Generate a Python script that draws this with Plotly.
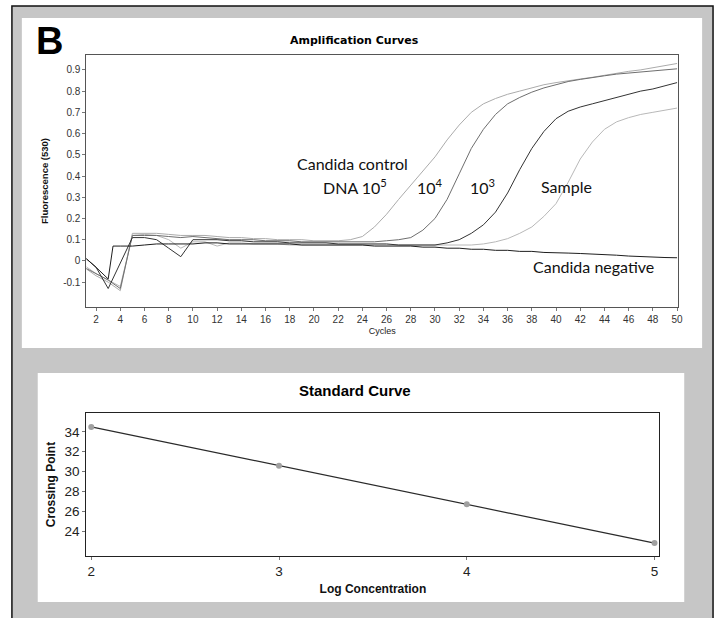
import plotly.graph_objects as go

W, H = 724, 618
def px(x): return x / W
def py(y): return 1 - y / H

# ---------------- data: amplification curves ----------------
cycles = list(range(1, 51))
neg_cycles = [1, 2, 3, 3.4] + list(range(4, 51))

ctrl_1e5 = [
    -0.03, -0.07, -0.10, -0.14, 0.13, 0.13, 0.13, 0.125, 0.12, 0.12,
    0.12, 0.115, 0.11, 0.11, 0.105, 0.105, 0.10, 0.10, 0.10, 0.095,
    0.095, 0.095, 0.10, 0.115, 0.16, 0.22, 0.29, 0.355, 0.42, 0.49,
    0.57, 0.64, 0.70, 0.74, 0.765, 0.785, 0.80, 0.815, 0.83, 0.84,
    0.85, 0.857, 0.865, 0.875, 0.885, 0.893, 0.90, 0.91, 0.92, 0.93]

ctrl_1e4 = [
    -0.03, -0.06, -0.09, -0.13, 0.12, 0.12, 0.12, 0.115, 0.11, 0.115,
    0.11, 0.105, 0.10, 0.10, 0.10, 0.095, 0.095, 0.095, 0.09, 0.09,
    0.09, 0.09, 0.09, 0.09, 0.09, 0.095, 0.10, 0.11, 0.145, 0.20,
    0.29, 0.41, 0.53, 0.62, 0.69, 0.74, 0.77, 0.795, 0.815, 0.83,
    0.845, 0.855, 0.865, 0.872, 0.88, 0.885, 0.89, 0.895, 0.90, 0.905]

ctrl_1e3 = [
    0.02, -0.03, -0.13, -0.01, 0.11, 0.11, 0.10, 0.06, 0.02, 0.10,
    0.10, 0.10, 0.095, 0.095, 0.09, 0.09, 0.09, 0.085, 0.085, 0.085,
    0.085, 0.08, 0.08, 0.08, 0.08, 0.08, 0.075, 0.075, 0.075, 0.075,
    0.085, 0.10, 0.13, 0.17, 0.23, 0.32, 0.43, 0.53, 0.61, 0.67,
    0.705, 0.725, 0.74, 0.755, 0.77, 0.785, 0.80, 0.81, 0.825, 0.84]

sample = [
    -0.02, -0.06, -0.09, -0.12, 0.12, 0.125, 0.12, 0.10, 0.06, 0.09,
    0.09, 0.07, 0.085, 0.085, 0.08, 0.08, 0.08, 0.075, 0.075, 0.075,
    0.075, 0.075, 0.075, 0.075, 0.075, 0.075, 0.075, 0.075, 0.075, 0.075,
    0.075, 0.075, 0.075, 0.08, 0.09, 0.105, 0.13, 0.16, 0.21, 0.27,
    0.37, 0.48, 0.56, 0.62, 0.655, 0.675, 0.69, 0.70, 0.71, 0.72]

negative = [
    0.02, -0.03, -0.085, 0.07, 0.07, 0.07, 0.075, 0.08, 0.08, 0.08,
    0.08, 0.085, 0.085, 0.08, 0.08, 0.08, 0.08, 0.08, 0.08, 0.075, 0.075,
    0.075, 0.075, 0.075, 0.075, 0.07, 0.07, 0.07, 0.07, 0.065, 0.065,
    0.06, 0.06, 0.055, 0.055, 0.05, 0.05, 0.045, 0.045, 0.04, 0.04,
    0.037, 0.035, 0.033, 0.031, 0.027, 0.023, 0.02, 0.018, 0.016, 0.015]

amp_ticks_x = list(range(2, 51, 2))
amp_ticks_y = [-0.1, 0, 0.1, 0.2, 0.3, 0.4, 0.5, 0.6, 0.7, 0.8, 0.9]
amp_ticktext_y = ["-0.1", "0", "0.1", "0.2", "0.3", "0.4", "0.5", "0.6", "0.7", "0.8", "0.9"]

# ---------------- data: standard curve ----------------
log_conc = [2, 3, 4, 5]
crossing_point = [34.5, 30.6, 26.7, 22.8]
std_ticks_y = [24, 26, 28, 30, 32, 34]

fig = go.Figure()

line_specs = [
    (cycles, ctrl_1e5, "#ababab", "Candida control DNA 10^5"),
    (cycles, sample, "#b8b8b8", "Sample"),
    (cycles, ctrl_1e4, "#6e6e6e", "10^4"),
    (cycles, ctrl_1e3, "#333333", "10^3"),
    (neg_cycles, negative, "#1e1e1e", "Candida negative"),
]
for xs, ys, col, name in line_specs:
    fig.add_trace(go.Scatter(x=xs, y=ys, mode="lines", name=name,
                             line=dict(color=col, width=1.0),
                             xaxis="x", yaxis="y", showlegend=False))

fig.add_trace(go.Scatter(x=log_conc, y=crossing_point, mode="lines+markers",
                         line=dict(color="#2a2a2a", width=1.2),
                         marker=dict(color="#a0a0a0", size=6),
                         xaxis="x2", yaxis="y2", showlegend=False))

tickfont_small = dict(family="Liberation Sans, Arial, sans-serif", size=10, color="#333")
tickfont_big = dict(family="Liberation Sans, Arial, sans-serif", size=13.5, color="#222")

fig.update_layout(
    width=W, height=H,
    margin=dict(l=0, r=0, t=0, b=0),
    paper_bgcolor="white",
    plot_bgcolor="white",
    xaxis=dict(domain=[px(87), px(683)], range=[1.2, 50.1], tickvals=amp_ticks_x,
               ticks="outside", ticklen=3, tickcolor="#777", tickfont=tickfont_small,
               showline=True, mirror=True, linecolor="#555", linewidth=1,
               showgrid=False, zeroline=False, anchor="y",
               title=dict(text="Cycles", standoff=3,
                          font=dict(family="Liberation Sans, Arial, sans-serif", size=9, color="#222"))),
    yaxis=dict(domain=[py(307), py(55)], range=[-0.217, 0.97], tickvals=amp_ticks_y,
               ticktext=amp_ticktext_y, ticks="outside", ticklen=3, tickcolor="#777",
               tickfont=tickfont_small, showline=True, mirror=True, linecolor="#555",
               linewidth=1, showgrid=False, zeroline=False, anchor="x",
               title=dict(text="<b>Fluorescence (530)</b>", standoff=12,
                          font=dict(family="Liberation Sans, Arial, sans-serif", size=9.5, color="#111"))),
    xaxis2=dict(domain=[px(87), px(664)], range=[1.974, 5.026], tickvals=log_conc,
                ticks="outside", ticklen=3, tickcolor="#777", tickfont=tickfont_big,
                showline=True, mirror=True, linecolor="#222", linewidth=1.2,
                showgrid=False, zeroline=False, anchor="y2",
                title=dict(text="<b>Log Concentration</b>", standoff=6,
                           font=dict(family="Liberation Sans, Arial, sans-serif", size=12, color="#111"))),
    yaxis2=dict(domain=[py(556), py(413)], range=[21.5, 35.9], tickvals=std_ticks_y,
                ticks="outside", ticklen=3, tickcolor="#777", tickfont=tickfont_big,
                showline=True, mirror=True, linecolor="#222", linewidth=1.2,
                showgrid=False, zeroline=False, anchor="x2",
                title=dict(text="<b>Crossing Point</b>", standoff=6,
                           font=dict(family="Liberation Sans, Arial, sans-serif", size=12, color="#111"))),
)

# background panels
fig.add_shape(type="rect", xref="paper", yref="paper", x0=px(12), x1=px(718), y0=-0.02, y1=py(6),
              fillcolor="#c6c6c6", line=dict(color="#111", width=1.5), layer="below")
fig.add_shape(type="rect", xref="paper", yref="paper", x0=px(22), x1=px(707), y0=py(348), y1=py(18),
              fillcolor="white", line=dict(width=0), layer="below")
fig.add_shape(type="rect", xref="paper", yref="paper", x0=px(38), x1=px(689), y0=py(602), y1=py(373),
              fillcolor="white", line=dict(width=0), layer="below")

label_font = dict(family="Lato, Liberation Sans, sans-serif", size=16, color="#111")
annots = [
    ("<b>B</b>", 50, 41, dict(family="Liberation Sans, Arial, sans-serif", size=38, color="#000")),
    ("<b>Amplification Curves</b>", 357, 40, dict(family="DejaVu Sans, sans-serif", size=11, color="#000")),
    ("<b>Standard Curve</b>", 357, 390, dict(family="Liberation Sans, Arial, sans-serif", size=15, color="#000")),
    ("Candida control", 355, 164, label_font),
    ("DNA 10<sup>5</sup>", 357, 186, label_font),
    ("10<sup>4</sup>", 433, 186, label_font),
    ("10<sup>3</sup>", 486, 186, label_font),
    ("Sample", 570, 186, label_font),
    ("Candida negative", 598, 266, label_font),
]
for text, x, y, f in annots:
    fig.add_annotation(text=text, x=px(x), y=py(y), xref="paper", yref="paper",
                       showarrow=False, font=f, xanchor="center", yanchor="middle")

fig.write_html("out.html")
